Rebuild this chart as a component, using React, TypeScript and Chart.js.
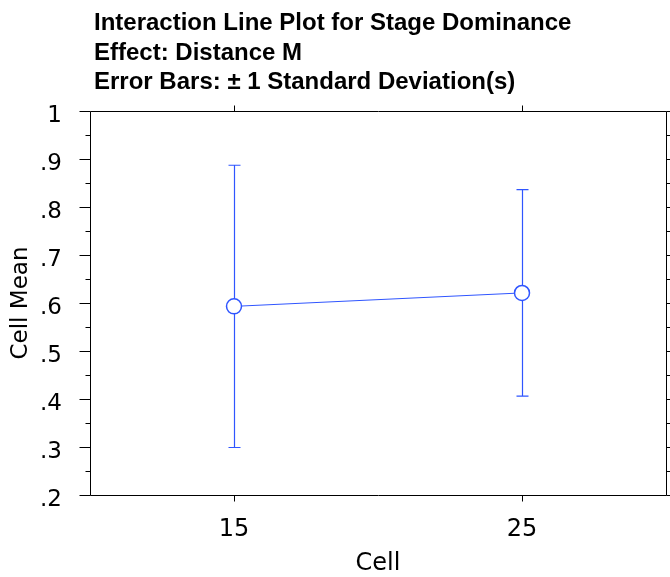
import React, { useEffect, useRef } from 'react';
import { Chart, registerables } from 'chart.js';

Chart.register(...registerables);

const titleLines = [
  'Interaction Line Plot for Stage Dominance',
  'Effect: Distance M',
  'Error Bars: \u00b1 1 Standard Deviation(s)',
];
const categories = ['15', '25'];
const cellMeans = [0.593, 0.621];
const cellSDs = [0.294, 0.215];
const yMin = 0.2;
const yMax = 1;
const yStep = 0.1;
const xAxisTitle = 'Cell';
const yAxisTitle = 'Cell Mean';

const BLUE = '#2f55ff';
const FONT = '"DejaVu Sans", "Liberation Sans", sans-serif';

function fmtTick(v: number): string {
  const s = (Math.round(v * 10) / 10).toFixed(1);
  if (s === '1.0') return '1';
  if (s.startsWith('0')) return s.slice(1);
  return s;
}

const framePlugin = {
  id: 'framePlugin',
  beforeDatasetsDraw(chart: any) {
    const { ctx } = chart;
    const x = chart.scales.x;
    const y = chart.scales.y;
    ctx.save();
    ctx.strokeStyle = BLUE;
    ctx.lineWidth = 1.2;
    const capHalf = 6;
    cellMeans.forEach((m, i) => {
      const px = Math.round(x.getPixelForValue(i)) + 0.5;
      const top = y.getPixelForValue(m + cellSDs[i]);
      const bot = y.getPixelForValue(m - cellSDs[i]);
      ctx.beginPath();
      ctx.moveTo(px, top);
      ctx.lineTo(px, bot);
      ctx.moveTo(px - capHalf, top);
      ctx.lineTo(px + capHalf, top);
      ctx.moveTo(px - capHalf, bot);
      ctx.lineTo(px + capHalf, bot);
      ctx.stroke();
    });
    ctx.restore();
  },
  afterDraw(chart: any) {
    const { ctx, chartArea } = chart;
    const x = chart.scales.x;
    const y = chart.scales.y;
    const L = Math.round(chartArea.left) + 0.5;
    const R = Math.round(chartArea.right) + 0.5;
    const T = Math.round(chartArea.top) + 0.5;
    const B = Math.round(chartArea.bottom) + 0.5;
    ctx.save();
    ctx.strokeStyle = '#000';
    ctx.lineWidth = 1;
    ctx.beginPath();
    ctx.rect(L, T, R - L, B - T);
    ctx.stroke();
    // y ticks: major and minor
    ctx.beginPath();
    y.ticks.forEach((t: any, i: number) => {
      const py = Math.round(y.getPixelForValue(t.value)) + 0.5;
      ctx.moveTo(L - 11, py);
      ctx.lineTo(L, py);
      ctx.moveTo(R, py);
      ctx.lineTo(R + 4, py);
      if (i < y.ticks.length - 1) {
        const mid = (t.value + y.ticks[i + 1].value) / 2;
        const pm = Math.round(y.getPixelForValue(mid)) + 0.5;
        ctx.moveTo(L - 5, pm);
        ctx.lineTo(L, pm);
        ctx.moveTo(R, pm);
        ctx.lineTo(R + 4, pm);
      }
    });
    // x ticks top and bottom
    categories.forEach((_, i) => {
      const px = Math.round(x.getPixelForValue(i)) + 0.5;
      ctx.moveTo(px, T - 6);
      ctx.lineTo(px, T);
      ctx.moveTo(px, B);
      ctx.lineTo(px, B + 6);
    });
    ctx.stroke();
    // title
    ctx.fillStyle = '#000';
    ctx.font = 'bold 24px "Liberation Sans", sans-serif';
    ctx.textAlign = 'left';
    ctx.textBaseline = 'alphabetic';
    const baselines = [30, 59.5, 89];
    titleLines.forEach((line, i) => ctx.fillText(line, 94, baselines[i]));
    ctx.restore();
  },
};

export default function App() {
  const ref = useRef<HTMLCanvasElement | null>(null);
  useEffect(() => {
    if (!ref.current) return;
    const chart = new Chart(ref.current, {
      type: 'line',
      data: {
        labels: categories,
        datasets: [
          {
            data: cellMeans,
            borderColor: BLUE,
            borderWidth: 1,
            backgroundColor: '#ffffff',
            pointBackgroundColor: '#ffffff',
            pointBorderColor: BLUE,
            pointBorderWidth: 1.5,
            pointRadius: 7.5,
            pointHoverRadius: 7.5,
            tension: 0,
            fill: false,
          },
        ],
      },
      options: {
        responsive: false,
        animation: false,
        devicePixelRatio: 1,
        layout: { autoPadding: false, padding: { top: 111, right: 4, left: 0, bottom: 0 } },
        plugins: {
          legend: { display: false },
          tooltip: { enabled: false },
          title: { display: false },
        },
        scales: {
          x: {
            type: 'category',
            offset: true,
            grid: { display: false, drawTicks: false },
            border: { display: false },
            ticks: {
              color: '#000',
              font: { family: FONT, size: 24 },
              padding: 20,
              maxRotation: 0,
            },
            title: {
              display: true,
              text: xAxisTitle,
              color: '#000',
              font: { family: FONT, size: 24 },
              padding: { top: 0, bottom: -1 },
            },
            afterFit: (s: any) => {
              s.height = 82;
              s.paddingLeft = 0;
              s.paddingRight = 0;
            },
          },
          y: {
            type: 'linear',
            min: yMin,
            max: yMax,
            grid: { display: false, drawTicks: false },
            border: { display: false },
            ticks: {
              stepSize: yStep,
              color: '#000',
              font: { family: FONT, size: 23 },
              padding: 28,
              labelOffset: 5,
              callback: (v: any) => fmtTick(Number(v)),
            },
            title: {
              display: true,
              text: yAxisTitle,
              color: '#000',
              font: { family: FONT, size: 23 },
              padding: { top: 7, bottom: 0 },
            },
            afterFit: (s: any) => {
              s.width = 90;
              s.paddingTop = 0;
              s.paddingBottom = 0;
            },
          },
        },
      },
      plugins: [framePlugin],
    });
    return () => chart.destroy();
  }, []);
  return (
    <div style={{ position: 'fixed', left: 0, top: 0, width: 670, height: 577, background: '#fff' }}>
      <canvas ref={ref} width={670} height={577} />
    </div>
  );
}
